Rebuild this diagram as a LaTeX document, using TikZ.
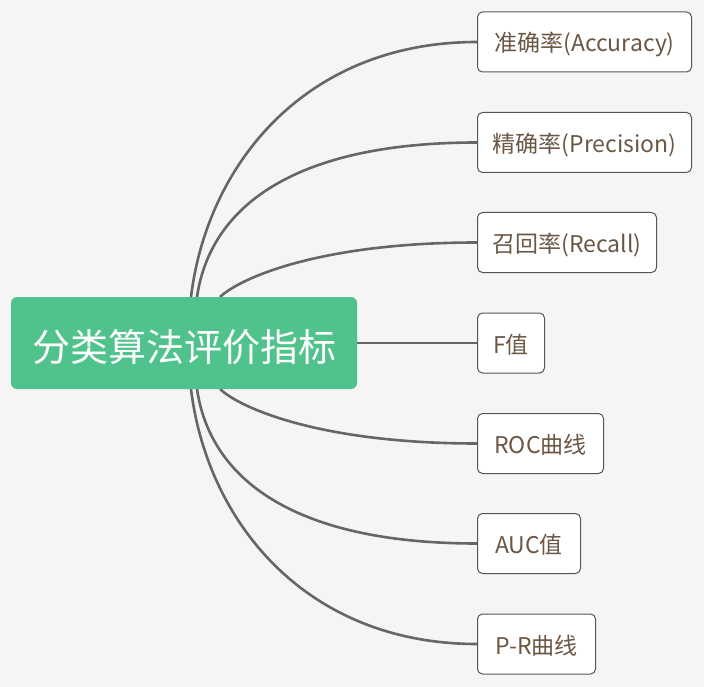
\documentclass[tikz,border=0pt]{standalone}
\usepackage{fontspec}
\setmainfont{Noto Sans CJK SC}
\usetikzlibrary{backgrounds}
\definecolor{bg}{HTML}{F5F5F5}
\definecolor{rootgreen}{HTML}{50C28C}
\definecolor{txt}{HTML}{6B5744}
\definecolor{edge}{HTML}{666666}
\definecolor{bord}{HTML}{555555}
\newcommand{\baseat}[2]{\raisebox{-#1}[0pt][0pt]{#2}}
\begin{document}
\begin{tikzpicture}[x=1pt,y=-1pt,
  leaf/.style={draw=bord, line width=1pt, fill=white, rounded corners=5pt,
    minimum height=60pt, inner sep=0pt, anchor=west, text=txt,
    font=\fontsize{23}{27}\selectfont},
  rootbox/.style={fill=rootgreen, rounded corners=6pt, minimum width=346pt,
    minimum height=92pt, inner sep=0pt, text=white,
    font=\fontsize{38}{44}\selectfont},
  link/.style={draw=edge, line width=2.6pt}]
\useasboundingbox (0,0) rectangle (704,687);

\node[rootbox] (root) at (184,343) {\baseat{18.5pt}{分类算法评价指标}};

\node[leaf, minimum width=214pt] (c1) at (477,42)    {\baseat{10pt}{准确率(Accuracy)}};
\node[leaf, minimum width=214pt] (c2) at (477,142.5) {\baseat{10pt}{精确率(Precision)}};
\node[leaf, minimum width=179pt] (c3) at (477,242.5) {\baseat{10pt}{召回率(Recall)}};
\node[leaf, minimum width=67pt]  (c4) at (477,343)   {\baseat{10pt}{F值}};
\node[leaf, minimum width=126pt] (c5) at (477,443.5) {\baseat{10pt}{ROC曲线}};
\node[leaf, minimum width=103pt] (c6) at (477,543.5) {\baseat{10pt}{AUC值}};
\node[leaf, minimum width=118pt] (c7) at (477,644)   {\baseat{10pt}{P-R曲线}};

\coordinate (s1) at (191,297);
\coordinate (s2) at (197,297);
\coordinate (s3) at (220,297);
\coordinate (s5) at (220,389);
\coordinate (s6) at (197,389);
\coordinate (s7) at (191,389);

\begin{pgfonlayer}{background}
\fill[bg] (0,0) rectangle (704,687);
\draw[link] (s1) .. controls (207,165) and (305,42) .. (c1.west);
\draw[link] (s2) .. controls (210,208) and (292,142.5) .. (c2.west);
\draw[link] (s3) .. controls (240,278) and (320,242.5) .. (c3.west);
\draw[link] (root.east) -- (c4.west);
\draw[link] (s5) .. controls (240,408) and (320,443.5) .. (c5.west);
\draw[link] (s6) .. controls (210,478) and (292,543.5) .. (c6.west);
\draw[link] (s7) .. controls (207,521) and (305,644) .. (c7.west);
\end{pgfonlayer}
\end{tikzpicture}
\end{document}
